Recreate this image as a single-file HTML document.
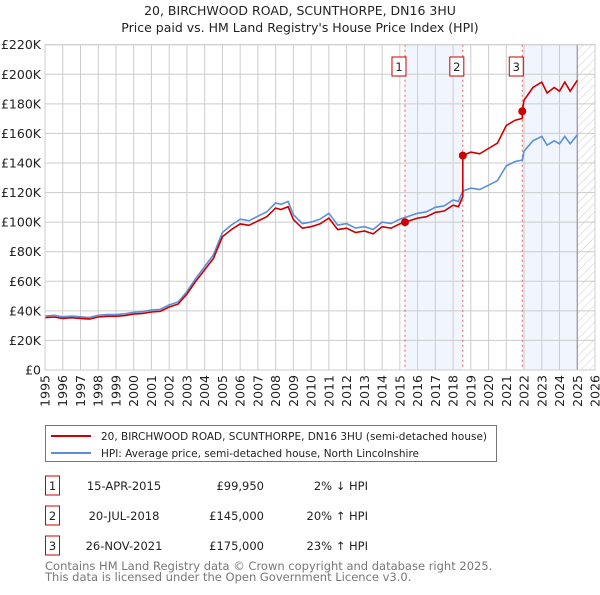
<!DOCTYPE html>
<html><head><meta charset="utf-8"><style>
body{margin:0;background:#fff;font-family:"Liberation Sans","DejaVu Sans",sans-serif;}
svg text{font-family:"DejaVu Sans","Liberation Sans",sans-serif;}
</style></head><body>
<svg id="c" width="600" height="590" xmlns="http://www.w3.org/2000/svg">
<defs><pattern id="hatch" width="6" height="6" patternUnits="userSpaceOnUse" patternTransform="rotate(45)"><line x1="0" y1="0" x2="0" y2="6" stroke="#ccc" stroke-width="1"/></pattern></defs>
<text x="300" y="15" text-anchor="middle" font-size="12.5" fill="#222">20, BIRCHWOOD ROAD, SCUNTHORPE, DN16 3HU</text>
<text x="300" y="32" text-anchor="middle" font-size="12.5" fill="#222">Price paid vs. HM Land Registry's House Price Index (HPI)</text>
<g id="plot"></g>
<g>
<rect x="45.5" y="425.5" width="451" height="36" fill="#fff" stroke="#777"/>
<line x1="51" y1="436" x2="91" y2="436" stroke="#cc0000" stroke-width="2"/>
<text x="101" y="440" font-size="11" fill="#222" textLength="386" lengthAdjust="spacingAndGlyphs">20, BIRCHWOOD ROAD, SCUNTHORPE, DN16 3HU (semi-detached house)</text>
<line x1="51" y1="453" x2="91" y2="453" stroke="#5b8fd6" stroke-width="2"/>
<text x="101" y="457" font-size="11" fill="#222" textLength="318" lengthAdjust="spacingAndGlyphs">HPI: Average price, semi-detached house, North Lincolnshire</text>
</g>
<g id="tbl" font-size="11.5" fill="#222"></g>
<text x="45" y="570" font-size="11.5" fill="#777">Contains HM Land Registry data © Crown copyright and database right 2025.</text>
<text x="45" y="581" font-size="11.5" fill="#777">This data is licensed under the Open Government Licence v3.0.</text>
</svg>
<script>
const hpiDates=[1995,1995.5,1996,1996.5,1997,1997.5,1998,1998.5,1999,1999.5,2000,2000.5,2001,2001.5,2002,2002.5,2003,2003.5,2004,2004.5,2005,2005.5,2006,2006.5,2007,2007.5,2008,2008.3,2008.7,2009,2009.5,2010,2010.5,2011,2011.5,2012,2012.5,2013,2013.5,2014,2014.5,2015,2015.5,2016,2016.5,2017,2017.5,2018,2018.3,2018.55,2019,2019.5,2020,2020.5,2021,2021.5,2021.9,2022,2022.5,2023,2023.3,2023.7,2024,2024.3,2024.6,2025];
const hpiValues=[36.5,37,36,36.5,36,35.5,37,37.5,37.5,38,39,39.5,40.5,41,44,46,53,62,70,78,93,98,102,101,104,107,113,112,114,105,99,100,102,106,98,99,96,97,95,100,99,102,104,106,107,110,111,115,114,121,123,122,125,128,138,141,142,148,155,158,152,155,153,158,153,159];
const saleDates=[2015.29,2018.55,2021.9];
const salePrices=[99.95,145,175];
const saleLabels=["15-APR-2015","20-JUL-2018","26-NOV-2021"];
const salePriceText=["£99,950","£145,000","£175,000"];
const saleHpiText=["2% ↓ HPI","20% ↑ HPI","23% ↑ HPI"];
const yTicks=[0,20,40,60,80,100,120,140,160,180,200,220];
const xYears=[1995,1996,1997,1998,1999,2000,2001,2002,2003,2004,2005,2006,2007,2008,2009,2010,2011,2012,2013,2014,2015,2016,2017,2018,2019,2020,2021,2022,2023,2024,2025,2026];
const L=45,R=595,T=44.7,B=370,x0=1995,x1=2026,yMax=220,dataEnd=2025.0;
const X=t=>L+(t-x0)/(x1-x0)*(R-L);
const Y=v=>B-v/yMax*(B-T);
const NS="http://www.w3.org/2000/svg";
const g=document.getElementById('plot');
function mk(tag,at,parent){const e=document.createElementNS(NS,tag);for(const k in at)e.setAttribute(k,at[k]);(parent||g).appendChild(e);return e;}
function hpiAt(t){for(let i=1;i<hpiDates.length;i++){if(t<=hpiDates[i]){const f=(t-hpiDates[i-1])/(hpiDates[i]-hpiDates[i-1]);return hpiValues[i-1]+f*(hpiValues[i]-hpiValues[i-1]);}}return hpiValues[hpiValues.length-1];}
for(let i=0;i<saleDates.length;i+=2){
 const end=i+1<saleDates.length?saleDates[i+1]:dataEnd;
 const r=mk('rect',{x:X(saleDates[i]),y:T,width:X(end)-X(saleDates[i]),height:B-T,fill:'#eef3fc',opacity:0.8});
 
 
}
const hr=mk('rect',{x:X(dataEnd),y:T,width:R-X(dataEnd),height:B-T,fill:'url(#hatch)'});


yTicks.forEach(v=>{
 const l=mk('line',{x1:L,x2:R,y1:Y(v),y2:Y(v),stroke:'#ccc','stroke-width':1});
 
 
 const t=mk('text',{x:L-4,y:Y(v)+4.5,'text-anchor':'end','font-size':12.5,fill:'#222'});
 t.textContent='£'+(v===0?'0':v+'K');
 
 
});
xYears.forEach(yr=>{
 const l=mk('line',{x1:X(yr),x2:X(yr),y1:T,y2:B,stroke:'#ccc','stroke-width':1});
 
 
 const t=mk('text',{transform:`translate(${X(yr)+4.5},375) rotate(-90)`,'text-anchor':'end','font-size':12.5,fill:'#222'});
 t.textContent=yr;
 
 
});
const el=mk('line',{x1:X(dataEnd),x2:X(dataEnd),y1:T,y2:B,stroke:'#999','stroke-width':1.2});


saleDates.forEach((d,i)=>{
 const l=mk('line',{x1:X(d),x2:X(d),y1:T,y2:B,stroke:'#e55','stroke-width':1,'stroke-dasharray':'2,3'});
 
 
 const b=mk('rect',{x:X(d)-13,y:57,width:14,height:19,fill:'#fff',stroke:'#c00'});
 
 
 const t=mk('text',{x:X(d)-6,y:71,'text-anchor':'middle','font-size':11.5,fill:'#222'});
 t.textContent=i+1;
 
 
});
let hp='';hpiDates.forEach((d,i)=>{hp+=(i?'L':'M')+X(d).toFixed(1)+','+Y(hpiValues[i]).toFixed(1);});
const hl=mk('path',{d:hp,fill:'none',stroke:'#5b8fd6','stroke-width':1.6});


function ratioAt(t){let k=0;for(let i=0;i<saleDates.length;i++)if(t>=saleDates[i])k=i;return salePrices[k]/hpiAt(saleDates[k]);}
const pts=[];
hpiDates.forEach(d=>pts.push(d));saleDates.forEach(d=>{pts.push(d-0.001);pts.push(d);});
pts.sort((a,b)=>a-b);
let pp='';pts.forEach((d,i)=>{pp+=(i?'L':'M')+X(d).toFixed(1)+','+Y(hpiAt(d)*ratioAt(d)).toFixed(1);});
const pl=mk('path',{d:pp,fill:'none',stroke:'#cc0000','stroke-width':1.6});


saleDates.forEach((d,i)=>{
 const c=mk('circle',{cx:X(d),cy:Y(salePrices[i]),r:4,fill:'#cc0000'});
 
 
});
mk('rect',{x:L,y:T,width:R-L,height:B-T,fill:'none',stroke:'#ccc'});
const tb=document.getElementById('tbl');
saleDates.forEach((d,i)=>{
 const cy=486+i*30;
 const b=mk('rect',{x:45.5,y:cy-10,width:14,height:19,fill:'#fff',stroke:'#c00'},tb);
 
 
 const n=mk('text',{x:52.5,y:cy+4,'text-anchor':'middle'},tb);n.textContent=i+1;
 
 
 const a=mk('text',{x:124,y:cy+4,'text-anchor':'middle'},tb);a.textContent=saleLabels[i];
 
 
 const p=mk('text',{x:264,y:cy+4,'text-anchor':'end'},tb);p.textContent=salePriceText[i];
 
 
 const h=mk('text',{x:368,y:cy+4,'text-anchor':'end'},tb);h.textContent=saleHpiText[i];
 
 
});
</script>
</body></html>
